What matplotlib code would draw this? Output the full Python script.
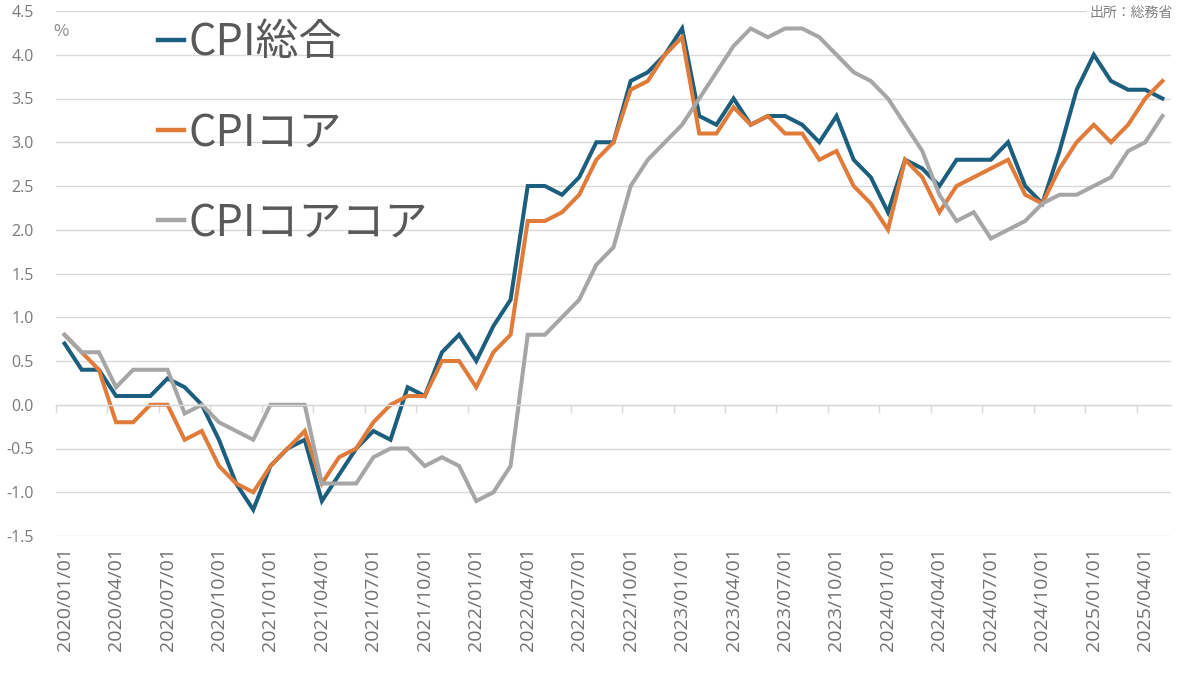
import numpy as np
import matplotlib
matplotlib.use("Agg")
import matplotlib.pyplot as plt
from matplotlib.lines import Line2D

plt.rcParams['font.family'] = ['Noto Sans CJK JP', 'DejaVu Sans']

months = [f"{y}/{m:02d}/01" for y in range(2020, 2026) for m in range(1, 13)][:65]

headline = [0.7, 0.4, 0.4, 0.1, 0.1, 0.1, 0.3, 0.2, 0.0, -0.4, -0.9, -1.2,
            -0.7, -0.5, -0.4, -1.1, -0.8, -0.5, -0.3, -0.4, 0.2, 0.1, 0.6, 0.8,
            0.5, 0.9, 1.2, 2.5, 2.5, 2.4, 2.6, 3.0, 3.0, 3.7, 3.8, 4.0,
            4.3, 3.3, 3.2, 3.5, 3.2, 3.3, 3.3, 3.2, 3.0, 3.3, 2.8, 2.6,
            2.2, 2.8, 2.7, 2.5, 2.8, 2.8, 2.8, 3.0, 2.5, 2.3, 2.9, 3.6,
            4.0, 3.7, 3.6, 3.6, 3.5]
core = [0.8, 0.6, 0.4, -0.2, -0.2, 0.0, 0.0, -0.4, -0.3, -0.7, -0.9, -1.0,
        -0.7, -0.5, -0.3, -0.9, -0.6, -0.5, -0.2, 0.0, 0.1, 0.1, 0.5, 0.5,
        0.2, 0.6, 0.8, 2.1, 2.1, 2.2, 2.4, 2.8, 3.0, 3.6, 3.7, 4.0,
        4.2, 3.1, 3.1, 3.4, 3.2, 3.3, 3.1, 3.1, 2.8, 2.9, 2.5, 2.3,
        2.0, 2.8, 2.6, 2.2, 2.5, 2.6, 2.7, 2.8, 2.4, 2.3, 2.7, 3.0,
        3.2, 3.0, 3.2, 3.5, 3.7]
corecore = [0.8, 0.6, 0.6, 0.2, 0.4, 0.4, 0.4, -0.1, 0.0, -0.2, -0.3, -0.4,
            0.0, 0.0, 0.0, -0.9, -0.9, -0.9, -0.6, -0.5, -0.5, -0.7, -0.6, -0.7,
            -1.1, -1.0, -0.7, 0.8, 0.8, 1.0, 1.2, 1.6, 1.8, 2.5, 2.8, 3.0,
            3.2, 3.5, 3.8, 4.1, 4.3, 4.2, 4.3, 4.3, 4.2, 4.0, 3.8, 3.7,
            3.5, 3.2, 2.9, 2.4, 2.1, 2.2, 1.9, 2.0, 2.1, 2.3, 2.4, 2.4,
            2.5, 2.6, 2.9, 3.0, 3.3]

series_names = ['CPI総合', 'CPIコア', 'CPIコアコア']
colors = ['#1B5E7D', '#E07B39', '#A6A6A6']
yticks = np.arange(-1.5, 4.51, 0.5)

fig = plt.figure(figsize=(12, 6.75), dpi=100)
ax = fig.add_axes([56/1200, 1-536/675, (1171-56)/1200, (536-11)/675])

x = np.arange(len(months))
for vals, c, name in zip([headline, core, corecore], colors, series_names):
    ax.plot(x, vals, color=c, lw=2.9, label=name, solid_joinstyle='miter')

ax.set_xlim(-0.5, len(months) - 0.5)
ax.set_ylim(-1.5, 4.5)
ax.set_yticks(yticks)
ax.set_yticklabels([f"{v:.1f}" for v in yticks], fontsize=11.5, color='#7a7a7a',
                   family=['Open Sans', 'DejaVu Sans'])
ax.tick_params(axis='y', length=0, pad=16)
ax.grid(axis='y', color='#d9d9d9', lw=1.0)
ax.set_axisbelow(True)
for s in ['top', 'right', 'left']:
    ax.spines[s].set_visible(False)
ax.spines['bottom'].set_position(('data', 0))
ax.spines['bottom'].set_color('#d9d9d9')
ax.spines['bottom'].set_linewidth(1.0)
ax.set_xticks(np.arange(-0.5, len(months), 3))
ax.set_xticklabels([])
ax.tick_params(axis='x', direction='out', length=6, width=1.0, color='#d9d9d9')

sec = ax.secondary_xaxis(0)
sec.set_xticks(x[::3])
sec.set_xticklabels(months[::3], rotation=90, fontsize=14, color='#707070',
                    family=['Open Sans', 'DejaVu Sans'])
sec.tick_params(length=0, pad=8)
sec.spines['bottom'].set_visible(False)

handles = [Line2D([0], [0], color=c, lw=3.2) for c in colors]
fig.legend(handles, series_names, loc='upper left',
           bbox_to_anchor=(158/1200, 1-21/675), frameon=False,
           borderpad=0, borderaxespad=0,
           fontsize=31, handlelength=0.6, handletextpad=0.1,
           labelspacing=1.07, labelcolor='#595959')

fig.text(61/1200, 1-31/675, '%', ha='center', va='center', fontsize=12, color='#8a8a8a')
fig.text(1173/1200, 1-13/675, '出所：総務省', ha='right', va='center', fontsize=10,
         color='#808080', bbox=dict(facecolor='white', edgecolor='none', pad=2))

fig.savefig('out.png', dpi=100)
